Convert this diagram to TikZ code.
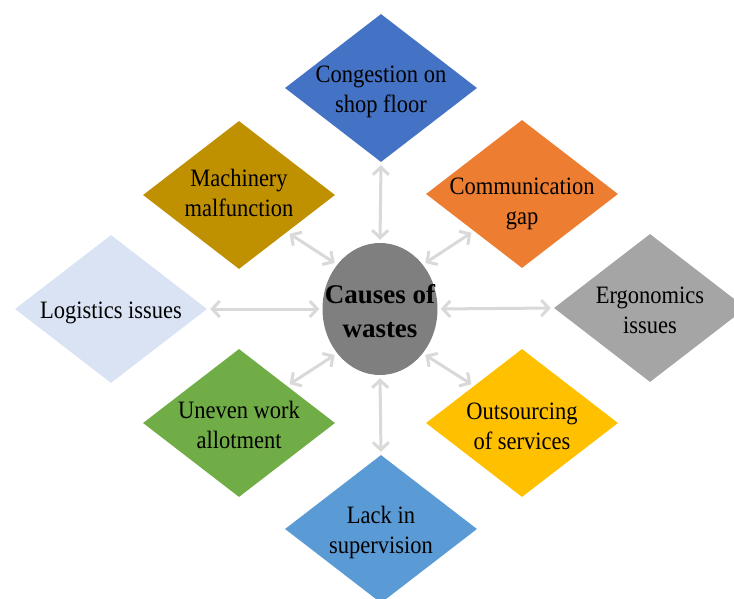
\documentclass[tikz,border=0pt]{standalone}
\usepackage{fontspec}
\setmainfont{Liberation Serif}
\newfontfamily\dfont[FakeStretch=0.9]{Liberation Serif}
\usetikzlibrary{shapes.geometric,arrows.meta}
\definecolor{cTop}{HTML}{4472C4}
\definecolor{cMach}{HTML}{BF9000}
\definecolor{cComm}{HTML}{ED7D31}
\definecolor{cLog}{HTML}{DAE3F3}
\definecolor{cErgo}{HTML}{A5A5A5}
\definecolor{cUnev}{HTML}{70AD47}
\definecolor{cOuts}{HTML}{FFC000}
\definecolor{cLack}{HTML}{5B9BD5}
\definecolor{cCore}{HTML}{7F7F7F}
\definecolor{cArr}{HTML}{D9D9D9}
\tikzset{
  dia/.style={diamond, draw=none, minimum width=192pt, minimum height=148pt, inner sep=0pt},
  lbl/.style={align=center, font=\dfont\fontsize{25}{30}\selectfont, text=black, inner sep=0pt},
  core/.style={ellipse, fill=cCore, minimum width=115pt, minimum height=132pt, inner sep=0pt},
  conn/.style={draw=cArr, line width=3pt,
    {Straight Barb[length=7.5pt,width=16pt,line width=3pt]}-{Straight Barb[length=7.5pt,width=16pt,line width=3pt]},
    shorten <=3pt, shorten >=3pt}
}
\begin{document}
\begin{tikzpicture}[x=1pt,y=-1pt]
\useasboundingbox (0,0) rectangle (734,599);
\node[dia, fill=cTop]  (top)  at (381,88)  {};
\node[dia, fill=cMach] (mach) at (239,195) {};
\node[dia, fill=cComm] (comm) at (522,194) {};
\node[dia, fill=cLog]  (log)  at (111,309) {};
\node[dia, fill=cErgo] (ergo) at (650,308) {};
\node[dia, fill=cUnev] (unev) at (239,423) {};
\node[dia, fill=cOuts] (outs) at (522,423) {};
\node[dia, fill=cLack] (lack) at (381,529) {};
\node[core] (core) at (380,309) {};
\node[align=center, font=\bfseries\fontsize{27}{34}\selectfont, inner sep=0pt] (coretxt) at (380,314) {\strut Causes of\\\strut wastes};
\node[lbl] (ttop)  at (381,92)  {\strut Congestion on\\\strut shop floor};
\node[lbl] (tmach) at (239,195) {\strut Machinery\\\strut malfunction};
\node[lbl] (tcomm) at (522,204) {\strut Communication\\\strut gap};
\node[lbl] (tlog)  at (111,312) {\strut Logistics issues};
\node[lbl] (tergo) at (650,312) {\strut Ergonomics\\\strut issues};
\node[lbl] (tunev) at (239,427) {\strut Uneven work\\\strut allotment};
\node[lbl] (touts) at (522,428) {\strut Outsourcing\\\strut of services};
\node[lbl] (tlack) at (381,532) {\strut Lack in\\\strut supervision};
\draw[conn] (top.south) -- (core.north);
\draw[conn] (lack.north) -- (core.south);
\draw[conn] (log.east) -- (core.west);
\draw[conn] (ergo.west) -- (core.east);
\draw[conn] (mach.south east) -- (core.134);
\draw[conn] (comm.south west) -- (core.46);
\draw[conn] (unev.north east) -- (core.226);
\draw[conn] (outs.north west) -- (core.314);
\end{tikzpicture}
\end{document}
